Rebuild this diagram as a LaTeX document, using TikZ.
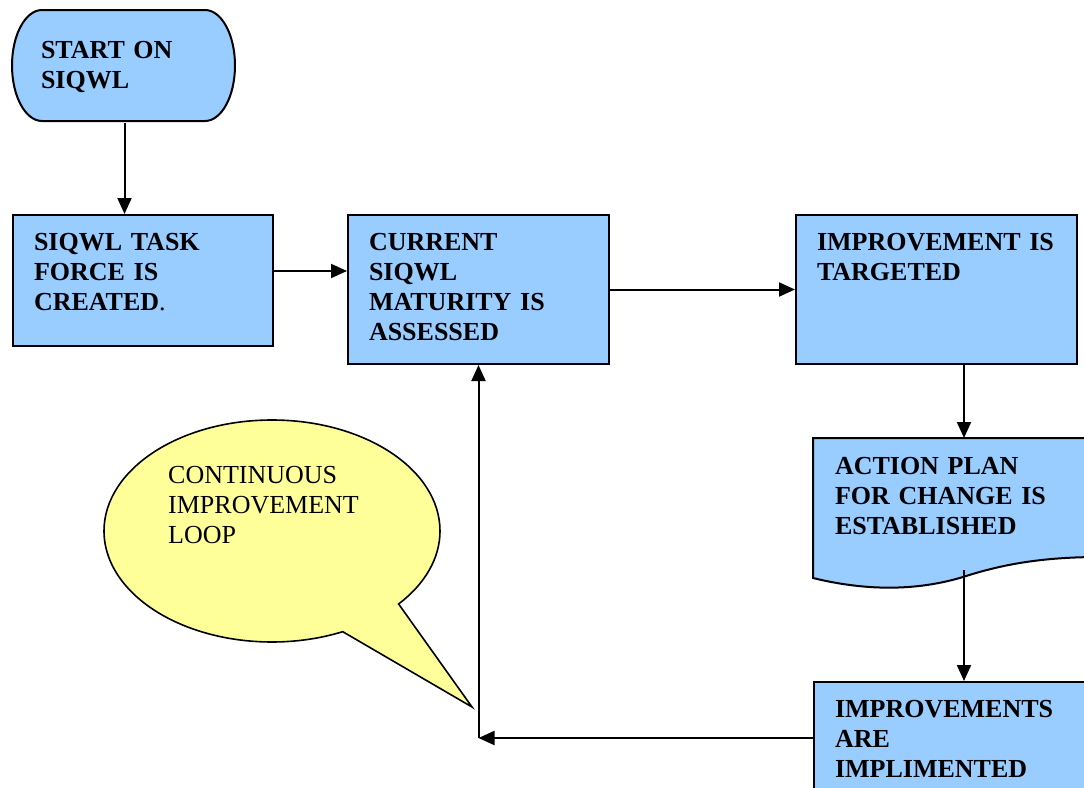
\documentclass[tikz,border=0pt]{standalone}
\usepackage{fontspec}
\setmainfont{Liberation Serif}
\usetikzlibrary{arrows.meta,shapes.callouts}
\definecolor{boxblue}{HTML}{99CCFF}
\definecolor{noteyellow}{HTML}{FFFF99}
\tikzset{%
  stepbox/.style={draw,fill=boxblue,line width=2pt,align=left,anchor=north west,
    inner xsep=21pt,inner ysep=17pt,text height=18pt,
    font=\fontsize{26}{30}\selectfont\bfseries},
  arrow/.style={-{Triangle[length=16pt,width=14pt]}, line width=2pt}%
}

\begin{document}
\begin{tikzpicture}[
    x=1pt, y=-1pt,
    outline/.style={draw,fill=boxblue,line width=2pt},
    textonly/.style={stepbox,draw=none,fill=none},
    bubble/.style={
        ellipse callout,
        draw,
        fill=noteyellow,
        line width=1.6pt,
        minimum width=336pt,
        minimum height=222pt,
        callout pointer arc=24,
        inner sep=0pt
    },
    notetext/.style={
        anchor=base west,
        align=left,
        text width=200pt,
        inner sep=0pt,
        font=\fontsize{26}{30}\selectfont
    }
]
\useasboundingbox (0,0) rectangle (1084,787);
\clip (0,0) rectangle (1084,787);

% terminator and document outlines, text nodes go on top
\path[outline] (42,10) -- (205,10)
    arc[start angle=-90, end angle=90, x radius=30, y radius=55.5]
    -- (42,121)
    arc[start angle=90, end angle=270, x radius=30, y radius=55.5] -- cycle;
\path[outline] (813,438) -- (1100,438) -- (1100,557)
    .. controls (1040,557) and (1000,565) .. (963,577)
    .. controls (920,590) and (870,592) .. (813,578) -- cycle;

\node[textonly, inner xsep=28pt, inner ysep=29pt, text width=167pt, text depth=35pt]
    (start) at (12,10) {START ON\\SIQWL};

\node[stepbox, text width=218pt, text depth=79pt] (task) at (12,214)
{SIQWL TASK\\FORCE IS\\CREATED{\mdseries .}};
\node[stepbox, text width=219pt, text depth=97pt] (current) at (347,214)
{CURRENT\\SIQWL\\MATURITY IS\\ASSESSED};
\node[stepbox, text width=239pt, text depth=97pt] (target) at (795,214)
{IMPROVEMENT IS\\TARGETED};
\node[textonly, text width=258pt, text depth=78pt] (actplan) at (813,438)
{ACTION PLAN\\FOR CHANGE IS\\ESTABLISHED};
\node[stepbox, text width=258pt, text depth=60pt] (implemented) at (813,681)
{IMPROVEMENTS\\ARE\\IMPLIMENTED};

% speech balloon
\coordinate (tip) at (472,707);
\node[bubble, callout absolute pointer={(tip)}] (balloon) at (272,531) {};
\node[notetext] (loop) at (168,483) {CONTINUOUS\\IMPROVEMENT\\LOOP};

\coordinate (corner) at (current.south |- implemented.west);

\draw[arrow] (start.south) -- (start.south |- task.north);
\draw[arrow] ([yshift=9.5pt]task.east) -- ([yshift=9.5pt]task.east -| current.west);
\draw[arrow] (current.east) -- (current.east -| target.west);
\draw[arrow] (target.south -| actplan.north) -- (actplan.north);
\draw[arrow] (actplan.south) -- (implemented.north);
\draw[arrow] (implemented.west) -- (corner);
\draw[arrow] (corner) -- (current.south);

\end{tikzpicture}
\end{document}
